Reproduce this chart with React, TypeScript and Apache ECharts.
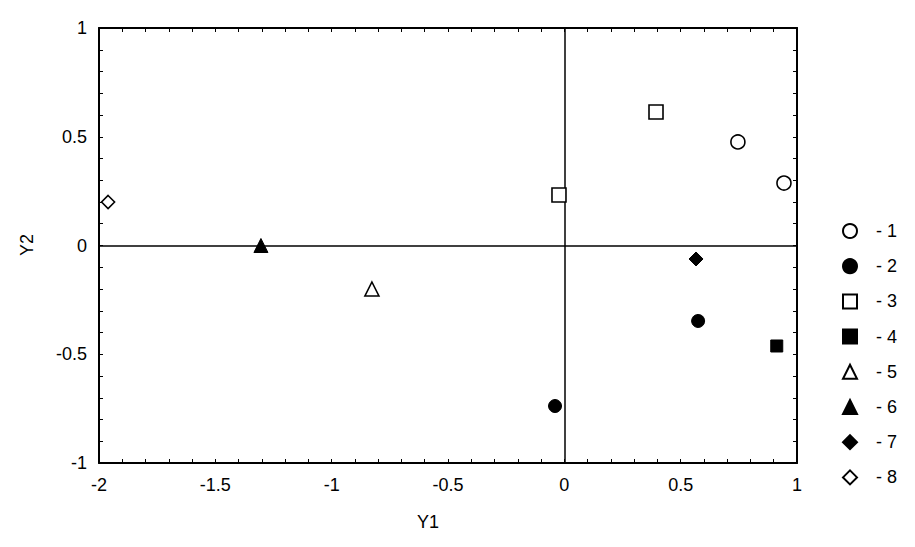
import React, { useEffect, useRef } from "react";
import * as echarts from "echarts";

const seriesNames = ["1", "2", "3", "4", "5", "6", "7", "8"];
const seriesSymbols = ["circle", "circle", "rect", "rect", "triangle", "triangle", "diamond", "diamond"];
const seriesFilled = [false, true, false, true, false, true, true, false];
const seriesPoints: number[][][] = [
  [[0.746, 0.476], [0.944, 0.287]],
  [[0.575, -0.347], [-0.04, -0.738]],
  [[0.394, 0.614], [-0.023, 0.232]],
  [[0.913, -0.462]],
  [[-0.827, -0.2]],
  [[-1.304, 0.0]],
  [[0.566, -0.062]],
  [[-1.961, 0.2]],
];
const symbolSizes = [14, 13, 14, 12, 14, 14, 14, 13];

const FONT = "'Liberation Sans', Arial, sans-serif";
const FS = 18;

export default function App() {
  const ref = useRef<HTMLDivElement>(null);
  useEffect(() => {
    if (!ref.current) return;
    const chart = echarts.init(ref.current, undefined, { renderer: "svg" });
    const axisCommon = {
      type: "value" as const,
      axisLine: { show: true, onZero: false, lineStyle: { color: "#000", width: 2 } },
      axisTick: { show: true, inside: true, length: 4, lineStyle: { color: "#000", width: 1 } },
      minorTick: { show: true, splitNumber: 5, length: 4, lineStyle: { color: "#000", width: 1 } },
      splitLine: { show: false },
      minorSplitLine: { show: false },
    };
    const series: any[] = seriesNames.map((name, i) => ({
      name,
      type: "scatter",
      symbol: seriesSymbols[i],
      symbolSize: symbolSizes[i],
      data: seriesPoints[i],
      itemStyle: seriesFilled[i]
        ? { color: "#000", borderColor: "#000", borderWidth: 1, opacity: 1 }
        : { color: "#fff", borderColor: "#000", borderWidth: 1.6, opacity: 1 },
      z: 5,
    }));
    series[0].markLine = {
      silent: true,
      symbol: "none",
      label: { show: false },
      lineStyle: { color: "#000", width: 1.5, type: "solid" },
      data: [{ xAxis: 0 }, { yAxis: 0 }],
      z: 1,
    };
    chart.setOption({
      animation: false,
      backgroundColor: "#fff",
      grid: { left: 99, right: 118, top: 28, bottom: 84 },
      xAxis: [
        {
          ...axisCommon,
          position: "bottom",
          min: -2,
          max: 1,
          interval: 0.5,
          axisLabel: { color: "#000", fontSize: FS, fontFamily: FONT, margin: 13 },
        },
        {
          ...axisCommon,
          position: "top",
          min: -2,
          max: 1,
          interval: 0.5,
          axisLabel: { show: false },
        },
      ],
      yAxis: [
        {
          ...axisCommon,
          position: "left",
          min: -1,
          max: 1,
          interval: 0.5,
          axisLabel: { color: "#000", fontSize: FS, fontFamily: FONT, margin: 12 },
        },
        {
          ...axisCommon,
          position: "right",
          min: -1,
          max: 1,
          interval: 0.5,
          axisLabel: { show: false },
        },
      ],
      legend: {
        orient: "vertical",
        left: 837,
        top: 217,
        itemWidth: 14,
        itemHeight: 14,
        itemGap: 17.2,
        formatter: (n: string) => "- " + n,
        textStyle: { color: "#000", fontSize: FS, fontFamily: FONT, padding: [0, 0, 0, 14] },
        selectedMode: false,
      },
      graphic: [
        {
          type: "text",
          x: 27,
          y: 245,
          rotation: Math.PI / 2,
          style: { text: "Y2", fill: "#000", font: `${FS}px ${FONT}`, align: "center", verticalAlign: "middle" },
        },
        {
          type: "text",
          x: 428,
          y: 522,
          style: { text: "Y1", fill: "#000", font: `${FS}px ${FONT}`, align: "center", verticalAlign: "middle" },
        },
      ],
      series,
    });
    return () => chart.dispose();
  }, []);
  return <div ref={ref} style={{ width: 915, height: 547, position: "absolute", left: 0, top: 0 }} />;
}
